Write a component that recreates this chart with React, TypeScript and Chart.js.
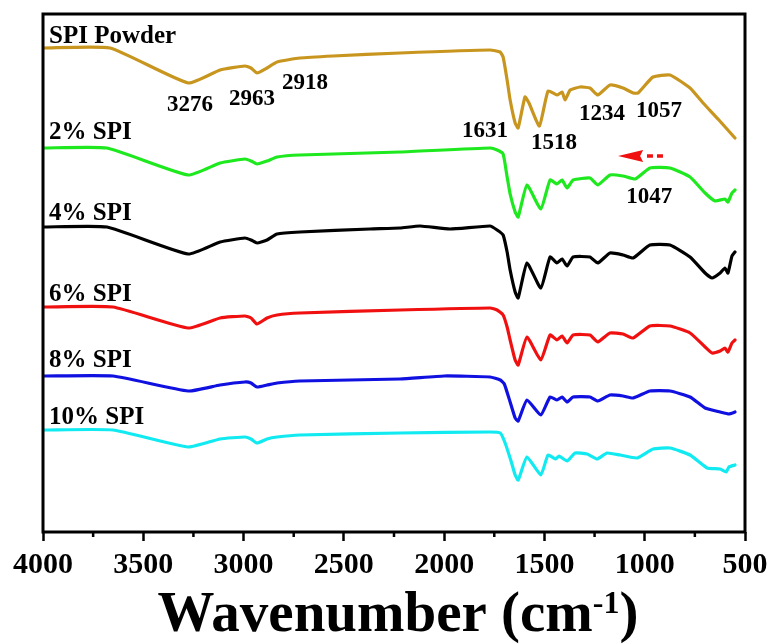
import React, { useEffect, useRef } from "react";
import { Chart, registerables } from "chart.js";

Chart.register(...registerables);

// ---- Data (wavenumber in cm-1, transmittance in arbitrary stacked units) ----
const wnPowder = [4000, 3666, 3276, 3117, 2993, 2963, 2933, 2883, 2833, 2719, 2554, 2220, 1771, 1721, 1706, 1686, 1671, 1646, 1631, 1597, 1577, 1525, 1482, 1437, 1412, 1397, 1372, 1322, 1273, 1234, 1173, 1108, 1057, 1033, 959, 874, 774, 709, 630, 550];
const tPowder = [484, 484, 449, 462, 466, 464, 459, 464, 470, 474, 476, 479, 482, 480, 475, 452, 432, 409, 404, 435, 429, 406, 441, 437, 440, 432, 442, 445, 444, 437, 447, 444, 439, 439, 455, 457, 444, 429, 412, 394];

const wn2 = [4000, 3681, 3276, 3117, 2993, 2963, 2933, 2883, 2833, 2719, 2220, 1771, 1736, 1706, 1686, 1671, 1646, 1631, 1587, 1518, 1472, 1437, 1412, 1387, 1357, 1273, 1234, 1173, 1108, 1047, 974, 874, 774, 699, 649, 600, 585, 565, 550];
const t2 = [384, 384, 357, 369, 373, 371, 368, 371, 375, 377, 380, 384, 382, 378, 355, 338, 320, 315, 347, 323, 352, 348, 352, 344, 352, 354, 347, 357, 356, 353, 364, 364, 355, 339, 331, 333, 330, 339, 342];

const wn4 = [4000, 3681, 3276, 3117, 2993, 2963, 2933, 2883, 2833, 2719, 2370, 2220, 2120, 1971, 1771, 1736, 1706, 1686, 1671, 1646, 1631, 1587, 1518, 1472, 1437, 1412, 1387, 1357, 1273, 1234, 1173, 1108, 1058, 974, 874, 774, 699, 664, 624, 600, 585, 565, 550];
const t4 = [305, 305, 278, 290, 294, 292, 289, 292, 298, 300, 303, 304, 306, 303, 306, 302, 297, 280, 262, 240, 234, 269, 244, 275, 269, 273, 266, 275, 275, 269, 279, 277, 274, 287, 287, 275, 259, 254, 259, 264, 259, 276, 280];

const wn6 = [4000, 3651, 3276, 3117, 2993, 2963, 2933, 2883, 2833, 2719, 2220, 1771, 1736, 1706, 1686, 1671, 1646, 1631, 1587, 1518, 1472, 1437, 1412, 1387, 1357, 1273, 1234, 1173, 1108, 1058, 974, 874, 774, 699, 664, 624, 600, 585, 565, 550];
const t6 = [225, 225, 204, 214, 216, 214, 208, 214, 217, 219, 222, 224, 222, 217, 205, 192, 172, 167, 195, 172, 197, 192, 196, 189, 197, 197, 190, 199, 198, 194, 206, 206, 199, 185, 179, 181, 184, 180, 189, 192];

const wn8 = [4000, 3651, 3276, 3117, 2993, 2963, 2933, 2883, 2833, 2719, 2220, 2000, 1771, 1720, 1700, 1671, 1646, 1631, 1587, 1518, 1472, 1437, 1412, 1387, 1357, 1273, 1234, 1173, 1108, 1058, 974, 874, 774, 699, 624, 580, 550];
const t8 = [156, 156, 141, 147, 150, 149, 145, 147, 149, 151, 153, 156, 155, 152, 148, 130, 114, 111, 132, 117, 135, 132, 135, 130, 135, 135, 131, 137, 136, 134, 141, 141, 135, 124, 120, 118, 120];

const wn10 = [4000, 3651, 3276, 3117, 2993, 2963, 2933, 2883, 2833, 2719, 2220, 1771, 1720, 1696, 1665, 1646, 1631, 1587, 1518, 1482, 1445, 1427, 1387, 1347, 1287, 1237, 1188, 1123, 1038, 958, 874, 774, 689, 624, 594, 580, 550];
const t10 = [102, 102, 85, 93, 95, 93, 89, 93, 95, 97, 99, 100, 99, 89, 70, 57, 52, 75, 57, 77, 73, 76, 71, 79, 78, 73, 79, 77, 74, 83, 84, 77, 64, 63, 60, 65, 67];

const seriesNames = ["SPI Powder", "2% SPI", "4% SPI", "6% SPI", "8% SPI", "10% SPI"];
const seriesColors = ["#C8961E", "#1EE81E", "#000000", "#F01010", "#1010E0", "#10EAF0"];
const seriesWn = [wnPowder, wn2, wn4, wn6, wn8, wn10];
const seriesT = [tPowder, t2, t4, t6, t8, t10];

// name-label anchors (wavenumber, level)
const nameLabelWn = 3970;
const nameLabelLevel = [489, 393, 312, 231, 165, 108];

// peak annotations
const peakText = ["3276", "2963", "2918", "1631", "1518", "1234", "1057", "1047"];
const peakWn = [3267, 2958, 2694, 1796, 1452, 1213, 929, 978];
const peakLevel = [421, 427, 443, 395, 383, 412, 415, 329];

// shift arrow (from -> to wavenumber, level)
const arrowFromWn = 909;
const arrowBaseWn = 1008;
const arrowToWn = 1133;
const arrowLevel = 376;

const xTicks = [500, 1000, 1500, 2000, 2500, 3000, 3500, 4000];
const xMinorTicks = [750, 1250, 1750, 2250, 2750, 3250, 3750];

const FONT = '"Liberation Serif", "Times New Roman", serif';

const overlay = {
  id: "overlay",
  afterDraw(chart: any) {
    const { ctx, chartArea } = chart;
    const xs = chart.scales.x;
    const ys = chart.scales.y;
    ctx.save();
    // frame
    ctx.strokeStyle = "#000";
    ctx.lineWidth = 3;
    ctx.strokeRect(chartArea.left, chartArea.top, chartArea.right - chartArea.left, chartArea.bottom - chartArea.top);
    // minor ticks
    ctx.lineWidth = 2.5;
    xMinorTicks.forEach((v) => {
      const px = xs.getPixelForValue(v);
      ctx.beginPath();
      ctx.moveTo(px, chartArea.bottom);
      ctx.lineTo(px, chartArea.bottom + 5);
      ctx.stroke();
    });
    // series names
    ctx.fillStyle = "#000";
    ctx.textBaseline = "alphabetic";
    ctx.textAlign = "left";
    ctx.font = `bold 25px ${FONT}`;
    seriesNames.forEach((n, i) => {
      ctx.fillText(n, xs.getPixelForValue(nameLabelWn), ys.getPixelForValue(nameLabelLevel[i]));
    });
    // peak labels
    ctx.textAlign = "center";
    ctx.font = `bold 23px ${FONT}`;
    peakText.forEach((t, i) => {
      ctx.fillText(t, xs.getPixelForValue(peakWn[i]), ys.getPixelForValue(peakLevel[i]));
    });
    // arrow
    const ay = ys.getPixelForValue(arrowLevel);
    const xFrom = xs.getPixelForValue(arrowFromWn);
    const xBase = xs.getPixelForValue(arrowBaseWn);
    const xTo = xs.getPixelForValue(arrowToWn);
    ctx.strokeStyle = "#F01010";
    ctx.fillStyle = "#F01010";
    ctx.lineWidth = 3.5;
    ctx.setLineDash([6, 4]);
    ctx.beginPath();
    ctx.moveTo(xFrom, ay);
    ctx.lineTo(xBase, ay);
    ctx.stroke();
    ctx.setLineDash([]);
    ctx.beginPath();
    ctx.moveTo(xTo, ay);
    ctx.lineTo(xBase, ay - 6);
    ctx.lineTo(xBase - 3, ay);
    ctx.lineTo(xBase, ay + 6);
    ctx.closePath();
    ctx.fill();
    // axis title with superscript
    ctx.fillStyle = "#000";
    ctx.textAlign = "left";
    const main = "Wavenumber (cm";
    const sup = "-1";
    const close = ")";
    ctx.font = `bold 57px ${FONT}`;
    const wMain = ctx.measureText(main).width;
    const wClose = ctx.measureText(close).width;
    ctx.font = `bold 32px ${FONT}`;
    const wSup = ctx.measureText(sup).width;
    const total = wMain + wSup + wClose;
    const cx = (chartArea.left + chartArea.right) / 2 + 4;
    let x = cx - total / 2;
    const base = 631;
    ctx.font = `bold 57px ${FONT}`;
    ctx.fillText(main, x, base);
    x += wMain;
    ctx.font = `bold 32px ${FONT}`;
    ctx.fillText(sup, x, base - 18);
    x += wSup;
    ctx.font = `bold 57px ${FONT}`;
    ctx.fillText(close, x, base);
    ctx.restore();
  },
};

export default function App() {
  const ref = useRef<HTMLCanvasElement | null>(null);
  useEffect(() => {
    if (!ref.current) return;
    const datasets = seriesNames.map((name, i) => ({
      label: name,
      data: seriesWn[i].map((w, j) => ({ x: w, y: seriesT[i][j] })),
      borderColor: seriesColors[i],
      backgroundColor: seriesColors[i],
      borderWidth: 3.2,
      borderJoinStyle: "round" as const,
      borderCapStyle: "round" as const,
      pointRadius: 0,
      tension: 0.15,
      fill: false,
    }));
    const chart = new Chart(ref.current, {
      type: "line",
      data: { datasets },
      options: {
        responsive: false,
        animation: false,
        layout: { padding: { left: 43, right: 25, top: 14, bottom: 0 } },
        plugins: { legend: { display: false }, tooltip: { enabled: false } },
        scales: {
          x: {
            type: "linear",
            reverse: true,
            min: 500,
            max: 4000,
            afterFit: (s: any) => {
              s.height = 112;
            },
            afterBuildTicks: (s: any) => {
              s.ticks = xTicks.map((v) => ({ value: v }));
            },
            grid: {
              drawOnChartArea: false,
              drawTicks: true,
              tickLength: 9,
              tickWidth: 2.5,
              tickColor: "#000",
            },
            border: { display: false },
            ticks: {
              autoSkip: false,
              maxRotation: 0,
              color: "#000",
              padding: 6,
              font: { family: FONT, size: 30, weight: "bold" },
              callback: (v: any) => String(v),
            },
          },
          y: { display: false, min: 0, max: 518 },
        },
      },
      plugins: [overlay],
    });
    return () => chart.destroy();
  }, []);
  return (
    <div style={{ position: "fixed", left: 0, top: 0, width: 770, height: 644, background: "#fff" }}>
      <canvas ref={ref} width={770} height={644} style={{ display: "block" }} />
    </div>
  );
}
